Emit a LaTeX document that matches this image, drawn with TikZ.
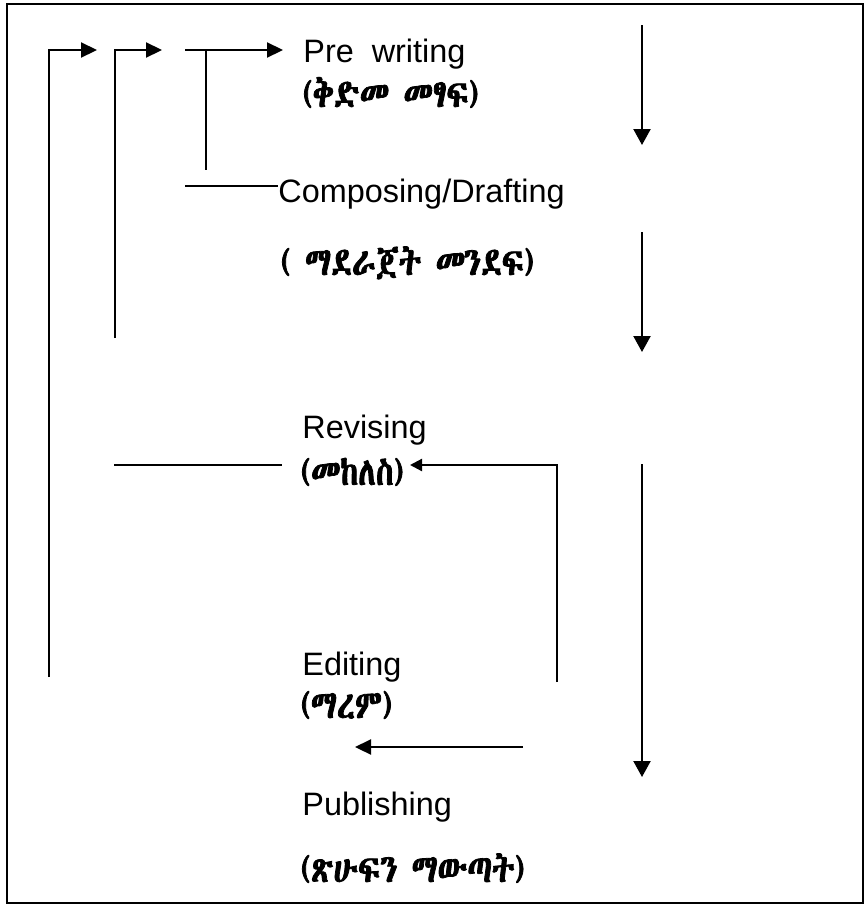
\documentclass[tikz,border=0pt]{standalone}
\usepackage{fontspec}
\setmainfont{Liberation Sans}
\IfFontExistsTF{Abyssinica SIL}
	{\newfontfamily\ethiofont[FakeBold=2,FakeStretch=0.81]{Abyssinica SIL}}
	{\IfFontExistsTF{FreeSerif}
		{\newfontfamily\ethiofont[FakeBold=2,FakeStretch=0.81]{FreeSerif}}
		{\newfontfamily\ethiofont{DejaVu Sans}}}
\usetikzlibrary{arrows.meta}

\begin{document}
\begin{tikzpicture}[x=0.5pt,y=-0.5pt,
	trait/.style={line width=1.1pt},
	fleche/.style={trait,-{Triangle[length=8pt,width=7.5pt]}},
	petitefleche/.style={trait,-{Triangle[length=6pt,width=6pt]}},
	descente/.style={trait,-{Triangle[length=8pt,width=8.5pt]}},
	etape/.style={anchor=base west,inner sep=0pt,font=\fontsize{16.2}{19}\selectfont},
	amh/.style={etape,font=\fontsize{19.5}{23}\selectfont\ethiofont}]
	%
	% Cadre
	\def\cadreXmax{864}
	\def\cadreYmax{905}
	\useasboundingbox (0,0) rectangle (\cadreXmax,\cadreYmax);
	\draw[trait] (7,4) rectangle (863,903);
	%
	% Etapes
	\node[etape] (pre) at (303,62) {Pre\ \ writing};
	\node[amh] (pream) at (302,107) {(ቅድመ መፃፍ)};
	\node[etape] (comp) at (278,202) {Composing/Drafting};
	\node[amh] (compam) at (280,275) {( ማደራጀት መንደፍ)};
	\node[etape] (rev) at (302,438) {Revising};
	\node[amh] (revam) at (300,485) {(መከለስ)};
	\node[etape] (edit) at (302,675) {Editing};
	\node[amh] (editam) at (300,718) {(ማረም)};
	\node[etape] (pub) at (302,815) {Publishing};
	\node[amh] (pubam) at (300,882) {(ጽሁፍን ማውጣት)};
	%
	% Boucles de retour
	\coordinate (b1) at (49,677);
	\coordinate (h1) at (97,50);
	\coordinate (b2) at (115,338);
	\coordinate (h2) at (162,50);
	\coordinate (d3) at (185,50);
	\coordinate (t3) at (206,50);
	\coordinate (f3) at (206,170);
	\coordinate (c3) at (185,186);
	\coordinate (r1) at (114,465);
	\draw[fleche] (b1) |- (h1);
	\draw[fleche] (b2) |- (h2);
	\draw[fleche,shorten >=10pt] (d3) -- (d3 -| pre.west);
	\draw[trait] (t3) -- (f3);
	\draw[trait] (c3) -- (c3 -| comp.west);
	\draw[trait,shorten >=9pt] (r1) -- (r1 -| revam.west);
	%
	% Retour edition -> revision
	\coordinate (e1) at (557,682);
	\coordinate (e2) at (410,465);
	\draw[petitefleche] (e1) |- (e2);
	\coordinate (g1) at (523,747);
	\coordinate (g2) at (355,747);
	\draw[fleche] (g1) -- (g2);
	%
	% Fleches descendantes
	\coordinate (v1) at (642,25);
	\coordinate (w1) at (642,145);
	\coordinate (v2) at (642,232);
	\coordinate (w2) at (642,352);
	\coordinate (v3) at (642,464);
	\coordinate (w3) at (642,777);
	\draw[descente] (v1) -- (w1);
	\draw[descente] (v2) -- (w2);
	\draw[descente] (v3) -- (w3);
\end{tikzpicture}
\end{document}
